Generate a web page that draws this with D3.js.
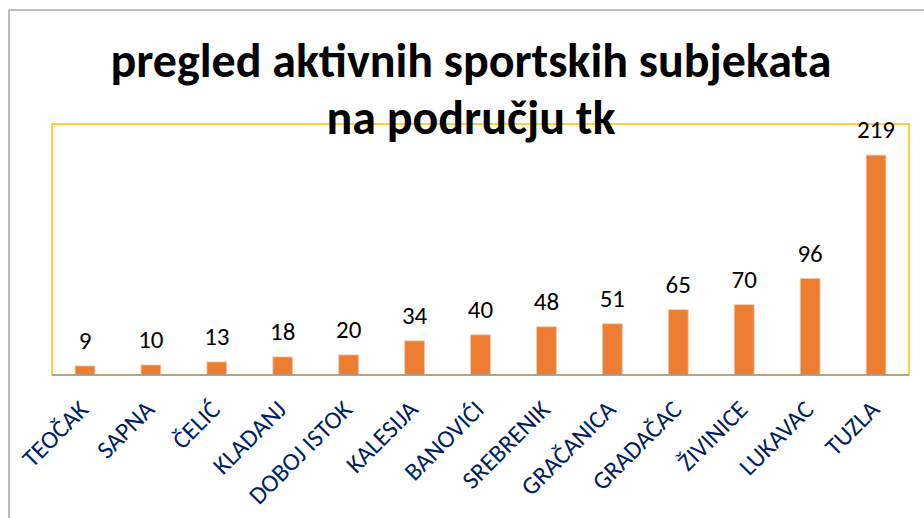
<!DOCTYPE html>
<html>
<head>
<meta charset="utf-8">
<script src="https://cdn.jsdelivr.net/npm/d3@7"></script>
<style>
  html,body{margin:0;padding:0;background:#fff;}
  svg{display:block;font-family:Carlito,Lato,"Open Sans",sans-serif;}
</style>
</head>
<body>
<svg id="chart" width="924" height="518"></svg>
<script>
const titleLines=["pregled aktivnih sportskih subjekata","na području tk"];
const categories=["TEOČAK","SAPNA","ČELIĆ","KLADANJ","DOBOJ ISTOK","KALESIJA","BANOVIĆI","SREBRENIK","GRAČANICA","GRADAČAC","ŽIVINICE","LUKAVAC","TUZLA"];
const values=[9,10,13,18,20,34,40,48,51,65,70,96,219];

const svg=d3.select("#chart");
const plotL=52, plotR=909, plotT=124, plotB=375;

// outer chart border (cropped at right/bottom)
svg.append("rect")
  .attr("x",9).attr("y",10).attr("width",940).attr("height",540)
  .attr("fill","#fff").attr("stroke","#a6a6a6").attr("stroke-width",1.5);

const x=d3.scaleBand().domain(categories).range([plotL,plotR]).paddingInner(0.7).paddingOuter(0.35);
const y=d3.scaleLinear().domain([0,250]).range([plotB,plotT]);

// plot frame
svg.append("rect")
  .attr("x",plotL).attr("y",plotT).attr("width",plotR-plotL).attr("height",plotB-plotT)
  .attr("fill","none").attr("stroke","#ffc000").attr("stroke-width",1.5);

svg.append("g")
  .selectAll("rect")
  .data(values)
  .join("rect")
  .attr("x",(d,i)=>x(categories[i]))
  .attr("y",d=>y(d))
  .attr("width",x.bandwidth())
  .attr("height",d=>plotB-y(d))
  .attr("fill","#ed7d31")
  .attr("stroke","#f6c6a4").attr("stroke-width",0.8);

// category axis line
svg.append("line")
  .attr("x1",plotL).attr("x2",plotR).attr("y1",plotB).attr("y2",plotB)
  .attr("stroke","#999").attr("stroke-width",1.5);

svg.append("g")
  .selectAll("text")
  .data(values)
  .join("text")
  .attr("x",(d,i)=>x(categories[i])+x.bandwidth()/2)
  .attr("y",d=>y(d)-17)
  .attr("text-anchor","middle")
  .attr("font-size","25px")
  .attr("fill","#000")
  .text(d=>d);

svg.append("g")
  .selectAll("text")
  .data(categories)
  .join("text")
  .attr("transform",d=>`translate(${x(d)+x.bandwidth()/2+5},411) rotate(-45)`)
  .attr("text-anchor","end")
  .attr("font-size","25px")
  .attr("fill","#002060")
  .text(d=>d);

// title
const title=svg.append("text")
  .attr("text-anchor","middle")
  .attr("font-weight","bold")
  .attr("font-size","48px")
  .attr("fill","#000");
title.selectAll("tspan")
  .data(titleLines)
  .join("tspan")
  .attr("x",471)
  .attr("y",(d,i)=>77+i*57)
  .text(d=>d);
</script>
</body>
</html>
